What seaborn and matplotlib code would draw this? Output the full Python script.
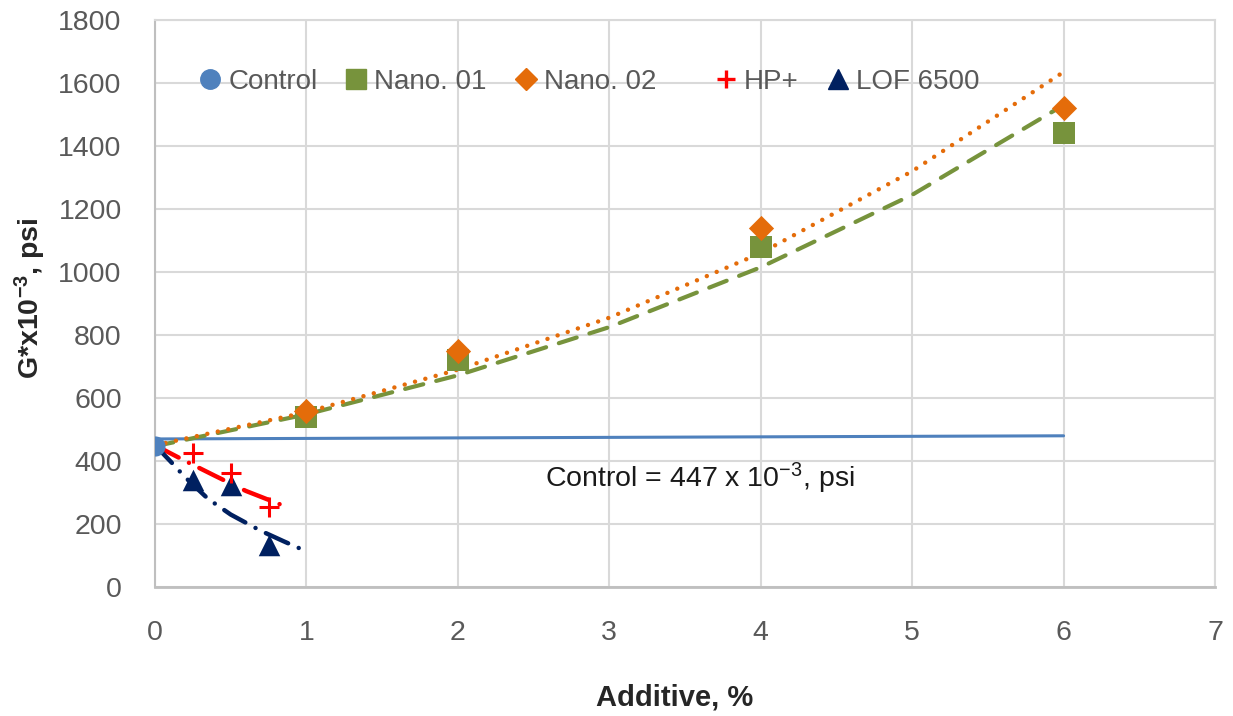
import matplotlib.pyplot as plt
import seaborn as sns
from matplotlib.lines import Line2D
from matplotlib.ticker import MultipleLocator

# measured points
ctrl_x = [0]
ctrl_y = [447]
nano1_x = [1, 2, 4, 6]
nano1_y = [540, 720, 1080, 1440]
nano2_x = [1, 2, 4, 6]
nano2_y = [560, 750, 1140, 1520]
hp_x = [0.25, 0.5, 0.75]
hp_y = [425, 362, 255]
lof_x = [0.25, 0.5, 0.75]
lof_y = [340, 324, 133]

# trend lines
ctrl_trend_x = [0, 6]
ctrl_trend_y = [470, 480]
nano1_trend_x = [0, 1, 2, 3, 4, 5, 6]
nano1_trend_y = [447, 548, 672, 825, 1015, 1245, 1530]
nano2_trend_x = [0, 1, 2, 3, 4, 5, 6]
nano2_trend_y = [450, 555, 690, 855, 1060, 1320, 1635]
hp_trend_x = [0, 0.2, 0.4, 0.6, 0.86]
hp_trend_y = [450, 400, 352, 305, 256]
lof_trend_x = [0, 0.1, 0.2, 0.35, 0.5, 0.7, 0.85, 1.0]
lof_trend_y = [450, 400, 348, 280, 230, 178, 145, 113]

# trailing spaces reproduce the wider gap after "Nano. 02" in the original legend
labels = ["Control", "Nano. 01", "Nano. 02    ", "HP+", "LOF 6500"]

C_CTRL = "#4F81BD"
C_N1 = "#77933C"
C_N2 = "#E46C0A"
C_HP = "#FF0000"
C_LOF = "#002060"
GRID = "#D9D9D9"
AXIS = "#BFBFBF"
TXT = "#595959"

sns.set_theme(style="white")
plt.rcParams["font.family"] = ["Liberation Sans", "DejaVu Sans"]
plt.rcParams["mathtext.default"] = "regular"

fig = plt.figure(figsize=(12.33, 7.16), dpi=100)
ax = fig.add_axes([0.1257, 0.1802, 0.8597, 0.7918])

trends = [
    (ctrl_trend_x, ctrl_trend_y, C_CTRL, "-", 2.2),
    (nano1_trend_x, nano1_trend_y, C_N1, (0, (4.5, 3.2)), 3),
    (nano2_trend_x, nano2_trend_y, C_N2, (0, (0.01, 2.4)), 3.2),
    (hp_trend_x, hp_trend_y, C_HP, (0, (6, 2.6, 0.01, 2.6)), 3.2),
    (lof_trend_x, lof_trend_y, C_LOF, (0, (5.5, 2.6, 0.01, 2.6)), 3.2),
]
for tx, ty, col, ls, lw in trends:
    sns.lineplot(x=tx, y=ty, ax=ax, color=col, lw=lw, sort=False)
    ln = ax.lines[-1]
    ln.set_linestyle(ls)
    ln.set_dash_capstyle("round")
    ln.set_solid_capstyle("round")

sns.scatterplot(x=nano1_x, y=nano1_y, ax=ax, marker="s", s=230, color=C_N1, linewidth=0, zorder=5)
sns.scatterplot(x=nano2_x, y=nano2_y, ax=ax, marker="D", s=165, color=C_N2, linewidth=0, zorder=5)
sns.scatterplot(x=lof_x, y=lof_y, ax=ax, marker="^", s=240, color=C_LOF, linewidth=0, zorder=5)
sns.scatterplot(x=hp_x, y=hp_y, ax=ax, marker="+", s=200, color=C_HP, linewidth=2.2, zorder=6)
sns.scatterplot(x=ctrl_x, y=ctrl_y, ax=ax, marker="o", s=210, color=C_CTRL, linewidth=0, zorder=7)

ax.set_xlim(0, 7)
ax.set_ylim(0, 1800)
ax.set_xticks(range(0, 8))
ax.set_yticks(range(0, 1801, 200))
ax.xaxis.set_minor_locator(MultipleLocator(0.5))
ax.grid(True, which="major", color=GRID, lw=1.5)
ax.set_axisbelow(True)
for s in ax.spines.values():
    s.set_color(GRID)
    s.set_linewidth(1.5)
ax.spines["left"].set_color(AXIS)
ax.spines["bottom"].set_color(AXIS)
ax.spines["bottom"].set_linewidth(2)
ax.tick_params(axis="both", which="major", labelsize=20.5, labelcolor=TXT, length=0, pad=24)
ax.tick_params(axis="x", which="minor", direction="in", length=6, width=1.5, color=AXIS)

ax.set_xlabel("Additive, %", fontsize=21, fontweight="bold")
ax.xaxis.set_label_coords(0.4906, -0.170)
ax.set_ylabel("G*x10$^{-3}$, psi", fontsize=20.5, fontweight="bold")
ax.yaxis.set_label_coords(-0.1010, 0.51)

ax.text(2.576, 317, "Control = 447 x 10$^{-3}$, psi", fontsize=20.5, color="#1A1A1A", va="baseline")

handles = [
    Line2D([], [], ls="none", marker="o", ms=14, color=C_CTRL),
    Line2D([], [], ls="none", marker="s", ms=14, color=C_N1),
    Line2D([], [], ls="none", marker="D", ms=11, color=C_N2),
    Line2D([], [], ls="none", marker="+", ms=13, mew=2.4, color=C_HP),
    Line2D([], [], ls="none", marker="^", ms=14, color=C_LOF),
]
ax.legend(handles, labels, loc="center left", bbox_to_anchor=(0.0415, 0.8907), ncol=5,
          frameon=False, fontsize=20, handlelength=0.8, handletextpad=0.25,
          columnspacing=1.0, borderpad=0, borderaxespad=0, labelcolor=TXT)

fig.savefig("out.png", dpi=100)
